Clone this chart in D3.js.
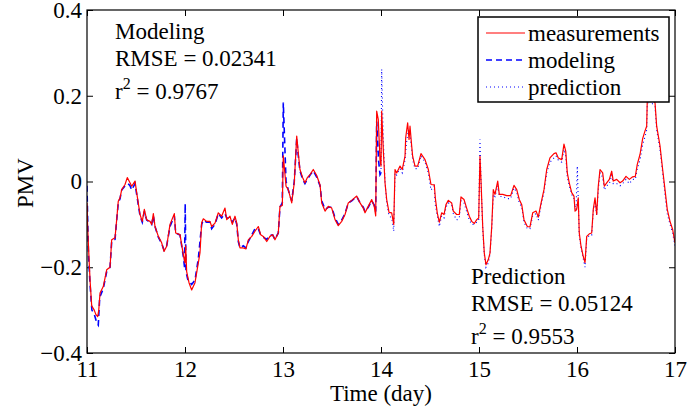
<!DOCTYPE html>
<html>
<head>
<meta charset="utf-8">
<script src="https://cdn.jsdelivr.net/npm/d3@7.9.0/dist/d3.min.js"></script>
<style>
  body { margin: 0; background: #fff; }
  svg { display: block; font-family: "Liberation Serif", "Times New Roman", serif; }
  .axis path { display: none; }
  .axis line { stroke: #000; }
</style>
</head>
<body>
<svg id="chart" width="688" height="412"></svg>
<script>
// measured PMV, days 11 - 17
const measurements = [
  [11.000, -0.05], [11.006, -0.10], [11.013, -0.14], [11.031, -0.23], [11.048, -0.29],
  [11.074, -0.30], [11.090, -0.31], [11.109, -0.315], [11.120, -0.30], [11.133, -0.26],
  [11.166, -0.245], [11.201, -0.206], [11.235, -0.20], [11.252, -0.136], [11.286, -0.131],
  [11.303, -0.089], [11.319, -0.046], [11.337, -0.038], [11.354, -0.019], [11.388, -0.007],
  [11.411, 0.009], [11.439, -0.003], [11.456, -0.011], [11.490, 0.001], [11.507, -0.026],
  [11.541, -0.077], [11.564, -0.093], [11.585, -0.065], [11.609, -0.089], [11.643, -0.093],
  [11.660, -0.10], [11.677, -0.075], [11.694, -0.105], [11.728, -0.128], [11.762, -0.143],
  [11.786, -0.163], [11.813, -0.151], [11.847, -0.10], [11.891, -0.075], [11.905, -0.12],
  [11.949, -0.124], [11.983, -0.171], [12.000, -0.19], [12.007, -0.15], [12.017, -0.21],
  [12.041, -0.236], [12.068, -0.253], [12.102, -0.236], [12.136, -0.19], [12.153, -0.166],
  [12.170, -0.096], [12.187, -0.087], [12.221, -0.093], [12.255, -0.093], [12.272, -0.105],
  [12.306, -0.097], [12.340, -0.073], [12.374, -0.081], [12.408, -0.062], [12.426, -0.089],
  [12.459, -0.081], [12.483, -0.10], [12.510, -0.081], [12.528, -0.097], [12.544, -0.136],
  [12.561, -0.155], [12.595, -0.155], [12.622, -0.157], [12.646, -0.136], [12.681, -0.128],
  [12.714, -0.116], [12.748, -0.105], [12.772, -0.124], [12.799, -0.128], [12.834, -0.14],
  [12.867, -0.128], [12.895, -0.124], [12.918, -0.136], [12.952, -0.12], [12.969, -0.058],
  [12.993, -0.056], [13.003, 0.06], [13.031, -0.011], [13.054, -0.019], [13.089, -0.05],
  [13.115, -0.003], [13.140, 0.106], [13.156, 0.067], [13.173, 0.028], [13.201, 0.009],
  [13.224, -0.003], [13.248, 0.009], [13.276, 0.016], [13.309, 0.028], [13.344, 0.014],
  [13.378, -0.008], [13.395, -0.05], [13.429, -0.069], [13.462, -0.058], [13.497, -0.062],
  [13.531, -0.089], [13.564, -0.103], [13.599, -0.093], [13.633, -0.077], [13.666, -0.05],
  [13.701, -0.044], [13.752, -0.034], [13.786, -0.05], [13.819, -0.062], [13.837, -0.073],
  [13.870, -0.058], [13.905, -0.042], [13.931, -0.058], [13.946, -0.08], [13.956, 0.164],
  [13.972, 0.145], [13.990, 0.051], [14.000, 0.036], [14.007, 0.164], [14.023, 0.075],
  [14.041, -0.003], [14.058, -0.042], [14.082, -0.072], [14.109, -0.073], [14.130, -0.10],
  [14.143, 0.028], [14.160, 0.020], [14.194, 0.036], [14.217, 0.028], [14.245, 0.059],
  [14.252, 0.102], [14.272, 0.137], [14.286, 0.098], [14.296, 0.129], [14.313, 0.083],
  [14.323, 0.059], [14.347, 0.036], [14.374, 0.036], [14.408, 0.065], [14.449, 0.051],
  [14.483, 0.028], [14.510, -0.007], [14.544, -0.008], [14.555, -0.04], [14.574, -0.073],
  [14.595, -0.095], [14.619, -0.073], [14.643, -0.077], [14.663, -0.054], [14.687, -0.044],
  [14.721, -0.05], [14.738, -0.069], [14.772, -0.077], [14.799, -0.077], [14.816, -0.036],
  [14.847, -0.042], [14.874, -0.062], [14.901, -0.081], [14.926, -0.093], [14.952, -0.098],
  [14.977, -0.089], [14.997, -0.085], [15.010, 0.059], [15.020, 0.005], [15.038, -0.105],
  [15.054, -0.167], [15.071, -0.194], [15.095, -0.182], [15.112, -0.167], [15.130, -0.105],
  [15.146, -0.019], [15.163, -0.03], [15.191, 0.001], [15.207, -0.03], [15.242, -0.03],
  [15.283, -0.033], [15.323, -0.033], [15.357, -0.009], [15.385, -0.019], [15.411, -0.042],
  [15.436, -0.054], [15.459, -0.089], [15.493, -0.105], [15.520, -0.106], [15.548, -0.073],
  [15.582, -0.069], [15.605, -0.083], [15.630, -0.054], [15.663, -0.019], [15.691, 0.028],
  [15.724, 0.055], [15.765, 0.065], [15.786, 0.067], [15.809, 0.055], [15.844, 0.051],
  [15.867, 0.087], [15.885, 0.071], [15.901, 0.020], [15.921, -0.003], [15.946, -0.026],
  [15.969, -0.034], [15.980, -0.069], [15.997, -0.065], [16.013, -0.038], [16.023, -0.12],
  [16.041, -0.151], [16.064, -0.175], [16.082, -0.189], [16.099, -0.128], [16.126, -0.122],
  [16.150, -0.12], [16.166, -0.065], [16.184, -0.038], [16.201, -0.077], [16.217, -0.011],
  [16.235, 0.028], [16.262, 0.020], [16.279, -0.011], [16.303, -0.003], [16.330, 0.005],
  [16.354, 0.024], [16.370, 0.001], [16.405, 0.005], [16.439, -0.003], [16.466, 0.001],
  [16.500, 0.012], [16.534, 0.005], [16.568, 0.011], [16.595, 0.012], [16.615, 0.040],
  [16.643, 0.063], [16.670, 0.10], [16.694, 0.118], [16.711, 0.129], [16.717, 0.19],
  [16.735, 0.20], [16.796, 0.184], [16.813, 0.129], [16.847, 0.083], [16.874, 0.028],
  [16.898, -0.019], [16.921, -0.065], [16.949, -0.093], [16.976, -0.112], [17.000, -0.143]
];

// model fit, days 11 - 14
const modeling = [
  [11.000, -0.01], [11.006, -0.08], [11.015, -0.17], [11.031, -0.24], [11.050, -0.30],
  [11.075, -0.31], [11.100, -0.33], [11.115, -0.335], [11.130, -0.27], [11.166, -0.25],
  [11.201, -0.21], [11.235, -0.20], [11.252, -0.14], [11.286, -0.135], [11.303, -0.09],
  [11.319, -0.05], [11.337, -0.04], [11.354, -0.02], [11.388, -0.01], [11.420, -0.005],
  [11.439, -0.01], [11.456, -0.02], [11.490, -0.005], [11.507, -0.03], [11.541, -0.08],
  [11.564, -0.095], [11.585, -0.07], [11.609, -0.09], [11.643, -0.095], [11.660, -0.10],
  [11.677, -0.08], [11.694, -0.105], [11.728, -0.13], [11.762, -0.145], [11.786, -0.16],
  [11.813, -0.15], [11.847, -0.105], [11.891, -0.08], [11.905, -0.12], [11.949, -0.125],
  [11.983, -0.175], [11.995, -0.20], [12.002, -0.052], [12.010, -0.21], [12.030, -0.23],
  [12.068, -0.24], [12.102, -0.23], [12.136, -0.18], [12.170, -0.10], [12.187, -0.09],
  [12.221, -0.095], [12.255, -0.095], [12.272, -0.11], [12.306, -0.10], [12.340, -0.075],
  [12.374, -0.085], [12.408, -0.075], [12.426, -0.085], [12.459, -0.085], [12.483, -0.095],
  [12.510, -0.085], [12.528, -0.10], [12.544, -0.14], [12.561, -0.155], [12.595, -0.15],
  [12.622, -0.155], [12.646, -0.14], [12.681, -0.125], [12.714, -0.11], [12.748, -0.11],
  [12.772, -0.125], [12.799, -0.13], [12.834, -0.135], [12.867, -0.125], [12.895, -0.125],
  [12.918, -0.135], [12.952, -0.12], [12.969, -0.06], [12.993, -0.05], [13.003, 0.184],
  [13.031, 0.00], [13.054, -0.02], [13.089, -0.045], [13.115, 0.00], [13.140, 0.10],
  [13.156, 0.06], [13.173, 0.025], [13.201, 0.005], [13.224, -0.005], [13.248, 0.005],
  [13.276, 0.015], [13.309, 0.025], [13.344, 0.01], [13.378, -0.01], [13.395, -0.045],
  [13.429, -0.065], [13.462, -0.06], [13.497, -0.06], [13.531, -0.085], [13.564, -0.10],
  [13.599, -0.09], [13.633, -0.075], [13.666, -0.05], [13.701, -0.045], [13.752, -0.035],
  [13.786, -0.05], [13.819, -0.06], [13.837, -0.07], [13.870, -0.06], [13.905, -0.045],
  [13.931, -0.055], [13.946, -0.07], [13.956, 0.14], [13.975, 0.05], [13.990, 0.016],
  [14.000, 0.02]
];

// model prediction, days 14 - 17
const prediction = [
  [14.000, 0.02], [14.007, 0.262], [14.023, 0.10], [14.041, 0.00], [14.058, -0.05],
  [14.082, -0.08], [14.109, -0.085], [14.130, -0.116], [14.143, 0.02], [14.160, 0.015],
  [14.194, 0.03], [14.217, 0.02], [14.245, 0.05], [14.260, 0.09], [14.280, 0.12],
  [14.296, 0.11], [14.313, 0.075], [14.323, 0.05], [14.347, 0.03], [14.374, 0.03],
  [14.408, 0.06], [14.449, 0.045], [14.483, 0.02], [14.510, -0.02], [14.544, -0.01],
  [14.551, -0.05], [14.574, -0.08], [14.595, -0.105], [14.619, -0.08], [14.643, -0.085],
  [14.663, -0.06], [14.687, -0.05], [14.721, -0.055], [14.738, -0.075], [14.772, -0.09],
  [14.799, -0.085], [14.816, -0.045], [14.847, -0.05], [14.874, -0.07], [14.901, -0.09],
  [14.926, -0.10], [14.952, -0.10], [14.977, -0.095], [14.997, -0.09], [15.010, 0.098],
  [15.020, 0.0], [15.038, -0.11], [15.054, -0.17], [15.071, -0.20], [15.095, -0.19],
  [15.112, -0.17], [15.130, -0.11], [15.146, -0.03], [15.163, -0.035], [15.191, -0.01],
  [15.207, -0.035], [15.242, -0.035], [15.283, -0.04], [15.323, -0.04], [15.357, -0.015],
  [15.385, -0.025], [15.411, -0.05], [15.436, -0.06], [15.459, -0.095], [15.493, -0.11],
  [15.520, -0.11], [15.548, -0.08], [15.582, -0.075], [15.605, -0.09], [15.630, -0.06],
  [15.663, -0.025], [15.691, 0.02], [15.724, 0.045], [15.765, 0.055], [15.786, 0.06],
  [15.809, 0.05], [15.844, 0.045], [15.867, 0.075], [15.885, 0.06], [15.901, 0.01],
  [15.921, -0.01], [15.946, -0.03], [15.969, -0.04], [15.990, -0.07], [16.003, 0.036],
  [16.023, -0.125], [16.041, -0.155], [16.064, -0.18], [16.082, -0.20], [16.099, -0.135],
  [16.126, -0.125], [16.150, -0.125], [16.166, -0.07], [16.184, -0.045], [16.201, -0.08],
  [16.217, -0.02], [16.235, 0.02], [16.262, 0.01], [16.279, -0.02], [16.303, -0.01],
  [16.330, -0.005], [16.354, 0.015], [16.370, -0.005], [16.405, -0.005], [16.439, -0.01],
  [16.466, -0.005], [16.500, 0.005], [16.534, -0.005], [16.568, 0.005], [16.595, 0.005],
  [16.615, 0.03], [16.643, 0.05], [16.670, 0.085], [16.694, 0.105], [16.711, 0.12],
  [16.717, 0.18], [16.735, 0.19], [16.796, 0.175], [16.813, 0.12], [16.847, 0.075],
  [16.874, 0.02], [16.898, -0.03], [16.921, -0.075], [16.949, -0.10], [16.976, -0.12],
  [17.000, -0.15]
];

const xTicks = [11, 12, 13, 14, 15, 16, 17];
const yTicks = [-0.4, -0.2, 0, 0.2, 0.4];
const legendLabels = ['measurements', 'modeling', 'prediction'];
const modelText = ['Modeling', 'RMSE = 0.02341', '0.9767'];
const predText = ['Prediction', 'RMSE = 0.05124', '0.9553'];

const FONT = '"Liberation Serif", "Times New Roman", serif';

const margin = { top: 10, right: 13, bottom: 59, left: 87 };
const width = 688 - margin.left - margin.right;
const height = 412 - margin.top - margin.bottom;

const svg = d3.select('#chart');
const g = svg.append('g').attr('transform', `translate(${margin.left},${margin.top})`);

const x = d3.scaleLinear().domain([11, 17]).range([0, width]);
const y = d3.scaleLinear().domain([-0.4, 0.4]).range([height, 0]);

svg.append('defs').append('clipPath').attr('id', 'clip')
  .append('rect').attr('width', width).attr('height', height);

const fmt = d => d === 0 ? '0' : d3.format('.1f')(d);

function styleAxis(sel) {
  sel.attr('font-family', FONT).attr('font-size', 23);
  sel.selectAll('text').attr('fill', '#000');
}

g.append('g').attr('class', 'axis')
  .attr('transform', `translate(0,${height})`)
  .call(d3.axisBottom(x).tickValues(xTicks).tickSize(-6).tickPadding(8).tickFormat(d3.format('d')))
  .call(styleAxis);
g.append('g').attr('class', 'axis')
  .call(d3.axisTop(x).tickValues(xTicks).tickSize(-6).tickFormat(''));
g.append('g').attr('class', 'axis')
  .call(d3.axisLeft(y).tickValues(yTicks).tickSize(-6).tickPadding(5).tickFormat(fmt))
  .call(styleAxis);
g.append('g').attr('class', 'axis')
  .attr('transform', `translate(${width},0)`)
  .call(d3.axisRight(y).tickValues(yTicks).tickSize(-6).tickFormat(''));

const line = d3.line().x(d => x(d[0])).y(d => y(d[1]));

const plot = g.append('g').attr('clip-path', 'url(#clip)');

plot.append('path').datum(modeling)
  .attr('d', line).attr('fill', 'none')
  .attr('stroke', '#0000ff').attr('stroke-width', 1.6)
  .attr('stroke-dasharray', '6,4');

plot.append('path').datum(prediction)
  .attr('d', line).attr('fill', 'none')
  .attr('stroke', '#0000ff').attr('stroke-width', 1.1)
  .attr('stroke-dasharray', '1,3');

plot.append('path').datum(measurements)
  .attr('d', line).attr('fill', 'none')
  .attr('stroke', '#ff0000').attr('stroke-width', 1.2)
  .attr('stroke-linejoin', 'round');

g.append('rect')
  .attr('width', width).attr('height', height)
  .attr('fill', 'none').attr('stroke', '#000').attr('stroke-width', 1.2);

// annotation blocks
function statBlock(x0, ys, lines) {
  const t = g.append('g').attr('font-size', 23).attr('fill', '#000');
  t.append('text').attr('x', x0).attr('y', ys[0]).text(lines[0]);
  t.append('text').attr('x', x0).attr('y', ys[1]).text(lines[1]);
  const r = t.append('text').attr('x', x0).attr('y', ys[2]);
  r.append('tspan').text('r');
  r.append('tspan').attr('font-size', 16).attr('dy', -10).text('2');
  r.append('tspan').attr('dy', 10).text(' = ' + lines[2]);
}
statBlock(28, [29, 56, 89], modelText);
statBlock(384, [274, 301, 334], predText);

// legend
const lg = g.append('g').attr('transform', 'translate(391,7)');
lg.append('rect').attr('width', 191).attr('height', 85)
  .attr('fill', '#fff').attr('stroke', '#000').attr('stroke-width', 1.5);
const styles = [
  { stroke: '#ff0000', dash: null, w: 1.2 },
  { stroke: '#0000ff', dash: '6,4', w: 1.4 },
  { stroke: '#0000ff', dash: '1,3', w: 1.1 }
];
legendLabels.forEach((lab, i) => {
  const yy = 16 + i * 27;
  lg.append('line').attr('x1', 8).attr('x2', 47).attr('y1', yy).attr('y2', yy)
    .attr('stroke', styles[i].stroke).attr('stroke-width', styles[i].w)
    .attr('stroke-dasharray', styles[i].dash);
  lg.append('text').attr('x', 50).attr('y', yy + 8).attr('font-size', 23).text(lab);
});

// axis titles
svg.append('text').attr('x', 381).attr('y', 401).attr('text-anchor', 'middle')
  .attr('font-size', 23).text('Time (day)');
svg.append('text').attr('transform', 'translate(33,183) rotate(-90)')
  .attr('text-anchor', 'middle').attr('font-size', 23).text('PMV');
</script>
</body>
</html>
